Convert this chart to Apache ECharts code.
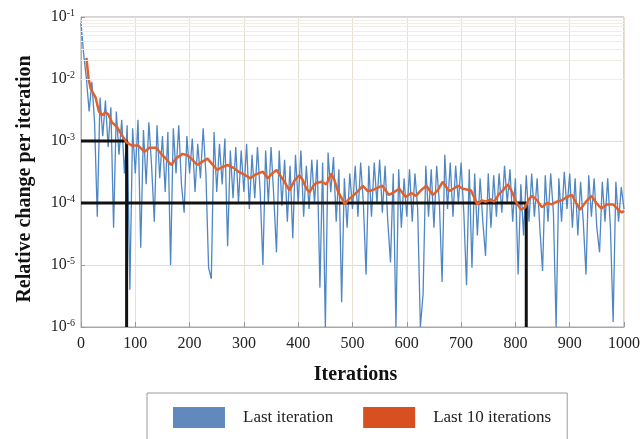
<!DOCTYPE html>
<html><head><meta charset="utf-8">
<script src="https://cdn.jsdelivr.net/npm/echarts@6/dist/echarts.min.js"></script>
<style>html,body{margin:0;padding:0;background:#fff}#c{width:643px;height:439px}</style>
</head><body><div id="c"></div>
<script>
// Blue: relative change at every 5th iteration (0..1000)
const blueStep = 5;
const blueVals = [
 8e-2,2.5e-2,1e-2,3e-3,9e-3,2e-3,6e-5,5e-3,1.2e-3,4.5e-3,8e-4,3.5e-3,4e-5,3e-3,6e-4,2.2e-3,3e-4,1.8e-3,4e-6,1.6e-3,
 3e-4,2.2e-3,1.9e-5,1.5e-3,2e-4,2e-3,4e-4,5e-5,1.8e-3,2.5e-4,1.2e-3,1.5e-4,1.4e-3,1e-5,1.6e-3,3e-4,1.8e-3,2e-4,7e-5,1.2e-3,
 3e-4,1.1e-3,1.5e-4,9e-4,2.5e-4,1.6e-3,3e-4,9e-6,6e-6,1.4e-3,1.5e-4,9e-4,2e-4,1.1e-3,2e-5,7e-4,1.2e-4,8e-4,1e-4,7e-4,
 1.5e-4,9e-4,8e-5,6e-4,1.2e-4,8e-4,1.5e-4,1e-5,7e-4,1e-4,8e-4,1.3e-4,1.6e-5,7e-4,9e-5,5e-4,5e-5,4e-4,2.7e-5,6e-4,
 1e-4,7e-4,6e-5,4e-4,8e-5,5e-4,1e-4,5e-4,4.3e-6,4.5e-4,1e-6,6.5e-4,1.5e-4,5.5e-4,5e-5,3.5e-4,2.5e-6,2.5e-4,4e-5,3e-4,
 8e-5,4e-4,6e-5,4.5e-4,1e-4,7e-6,4e-4,6e-5,4.5e-4,1e-4,5e-4,7e-5,4e-4,5e-5,1.1e-5,3e-4,1e-6,3.5e-4,4e-5,2.5e-4,
 6e-5,3.5e-4,5e-5,3e-4,8e-5,1e-6,3.4e-6,4e-4,6e-5,3.5e-4,4e-5,4e-4,1e-4,5.3e-6,6e-4,8e-5,4.5e-4,6e-5,4e-4,1e-4,
 4.5e-4,7e-5,4.7e-6,3.5e-4,9e-6,3e-4,3e-5,2.5e-4,5e-5,1.4e-5,3e-4,4e-5,2.8e-4,6e-5,3e-4,7e-5,4e-4,1e-4,3.5e-4,5e-5,
 2.5e-4,7e-6,2e-4,3e-5,2.8e-4,5e-5,3e-4,6e-5,2.5e-4,4e-5,8e-6,2.8e-4,5e-5,3e-4,7e-5,1e-6,2.5e-4,5e-5,3.2e-4,8e-5,
 3e-4,4e-5,2.5e-4,3e-5,2.2e-4,5e-5,7e-6,2.8e-4,6e-5,2.5e-4,4e-5,1.6e-5,2.2e-4,5e-5,2.5e-4,4e-5,1.2e-6,2.2e-4,5e-5,1.8e-4,8e-5
];
// Orange: average of last 10 iterations
const orangeIter = [10,14,18,22,27,33,39,45,50,57,66,75,84,93,105,117,126,138,150,158,166,175,187,196,205,214,223,233,242,251,260,270,281,290,300,312,322,335,344,352,360,372,384,393,402,408,415,421,428,433,443,452,461,467,473,480,486,493,501,510,519,528,536,543,555,567,577,586,598,608,617,626,636,648,657,666,678,686,694,703,718,730,738,746,754,761,770,777,786,794,801,810,818,825,831,840,849,858,867,876,885,895,904,912,919,930,940,949,958,969,980,988,996,1000];
const orangeVals = [2.2e-2,1.0e-2,7e-3,6e-3,5e-3,3e-3,2.6e-3,2.9e-3,2.7e-3,2.0e-3,1.7e-3,1.25e-3,9.5e-4,8.5e-4,8.5e-4,6.7e-4,7.8e-4,7.8e-4,5.9e-4,5e-4,4.1e-4,5.2e-4,6.2e-4,5.9e-4,5e-4,4.1e-4,4.6e-4,5.2e-4,4.2e-4,3.4e-4,3.8e-4,4.1e-4,3.7e-4,3.2e-4,2.9e-4,2.5e-4,2.9e-4,3.2e-4,2.5e-4,3.0e-4,3.4e-4,2.4e-4,1.6e-4,2.3e-4,2.8e-4,2.4e-4,1.7e-4,1.5e-4,1.9e-4,2.1e-4,2.2e-4,2.0e-4,3.0e-4,2.3e-4,1.55e-4,1.2e-4,9.5e-5,1.15e-4,1.3e-4,1.55e-4,1.9e-4,1.55e-4,1.6e-4,1.7e-4,1.9e-4,1.35e-4,1.5e-4,1.7e-4,1.25e-4,1.45e-4,1.3e-4,1.6e-4,1.9e-4,1.35e-4,1.6e-4,2.2e-4,1.55e-4,1.7e-4,1.9e-4,1.7e-4,1.6e-4,9.5e-5,1.1e-4,1.05e-4,1.15e-4,1.05e-4,1.4e-4,1.6e-4,2.0e-4,1.5e-4,1.05e-4,7.8e-5,8.5e-5,1.15e-4,1.3e-4,1.1e-4,8.5e-5,1.0e-4,9.5e-5,1.05e-4,1.1e-4,1.25e-4,1.35e-4,1.0e-4,7.8e-5,1.05e-4,1.3e-4,1.0e-4,8.2e-5,9.5e-5,9.5e-5,8.0e-5,7.0e-5,7.5e-5];
// Guide lines (threshold markers)
const guideA = [[0,1e-3],[84,1e-3],[84,1e-6]];
const guideB = [[0,1e-4],[820,1e-4],[820,1e-6]];
const refLevel = 4e-5;
const yDecades = [-6,-5,-4,-3,-2,-1];
const minorMant = [2,3,4,5,6,7,8,9];

const FONT = 'Liberation Serif';
const blueData = blueVals.map((v,k)=>[k*blueStep, v]);
const orangeData = orangeIter.map((x,k)=>[x, orangeVals[k]]);
const minorLines = [];
yDecades.slice(0,5).forEach(e=>minorMant.forEach(m=>minorLines.push({yAxis: m*Math.pow(10,e)})));

const chart = echarts.init(document.getElementById('c'), null, {renderer:'canvas'});
chart.setOption({
  backgroundColor:'#fff',
  animation:false,
  grid:{left:81,right:16,top:17,bottom:112,show:true,borderColor:'#a8a8a8',borderWidth:1,backgroundColor:'#fff'},
  legend:{
    left:147, top:393, padding:[14,16,24,26], itemGap:30, itemWidth:52, itemHeight:21,
    borderColor:'#9a9a9a', borderWidth:1, icon:'rect',
    textStyle:{fontFamily:FONT,fontSize:17,color:'#222',padding:[0,0,0,13]},
    data:[{name:'Last iteration',itemStyle:{color:'#6189bd'}},{name:'Last 10 iterations',itemStyle:{color:'#d8501f'}}]
  },
  xAxis:{
    type:'value', min:0, max:1000, interval:100,
    name:'Iterations', nameLocation:'middle', nameGap:38,
    nameTextStyle:{fontFamily:FONT,fontSize:20,fontWeight:'bold',color:'#111',padding:[0,0,0,6]},
    axisLine:{lineStyle:{color:'#a8a8a8'}},
    axisTick:{inside:true,length:5,lineStyle:{color:'#999'}},
    axisLabel:{fontFamily:FONT,fontSize:16,color:'#222',margin:9,formatter:v=>String(v)},
    splitLine:{show:true,lineStyle:{color:'#e6e1d2',width:1}}
  },
  yAxis:{
    type:'log', logBase:10, min:1e-6, max:1e-1,
    name:'Relative change per iteration', nameLocation:'middle', nameGap:46,
    nameTextStyle:{fontFamily:FONT,fontSize:20,fontWeight:'bold',color:'#111',padding:[0,14,0,0]},
    axisLine:{lineStyle:{color:'#a8a8a8'}},
    axisTick:{inside:true,length:4,lineStyle:{color:'#999'}},
    axisLabel:{
      margin:6,
      formatter:v=>'{b|10}{s|'+Math.round(Math.log10(v))+'}',
      rich:{b:{fontFamily:FONT,fontSize:16,color:'#222',lineHeight:18},s:{fontFamily:FONT,fontSize:10,color:'#222',verticalAlign:'top',lineHeight:18}}
    },
    splitLine:{show:true,lineStyle:{color:'#e2ddcf',width:1}}
  },
  series:[
    {name:'minor',type:'line',data:[],silent:true,
     markLine:{silent:true,symbol:'none',label:{show:false},lineStyle:{color:'#f1eee5',width:1,type:'solid'},data:minorLines}},
    {name:'Last iteration',type:'line',data:blueData,showSymbol:false,symbol:'none',
     lineStyle:{color:'#4f86c4',width:1.3},itemStyle:{color:'#6189bd'},z:2,
     markLine:{silent:true,symbol:'none',label:{show:false},lineStyle:{color:'#8f8f88',width:1,type:'solid'},data:[{yAxis:refLevel}]}},
    {name:'gA',type:'line',data:guideA,symbol:'none',lineStyle:{color:'#111',width:3},z:3,silent:true},
    {name:'gB',type:'line',data:guideB,symbol:'none',lineStyle:{color:'#111',width:3},z:3,silent:true},
    {name:'Last 10 iterations',type:'line',data:orangeData,showSymbol:false,symbol:'none',
     lineStyle:{color:'#e0612b',width:2.5},itemStyle:{color:'#d8501f'},z:4}
  ]
});
</script></body></html>
